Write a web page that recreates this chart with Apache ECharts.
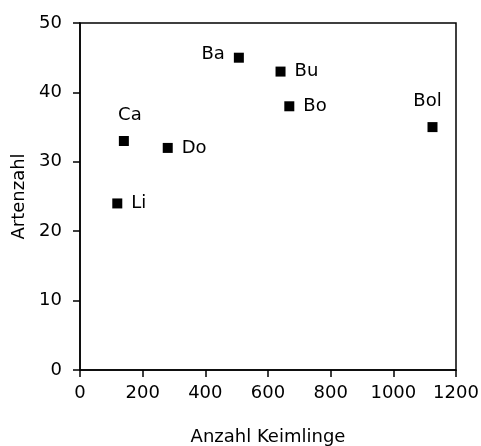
<!DOCTYPE html>
<html>
<head>
<meta charset="utf-8">
<script src="https://cdn.jsdelivr.net/npm/echarts@6/dist/echarts.min.js"></script>
<style>
html,body{margin:0;padding:0;background:#fff;}
#chart{width:481px;height:446px;}
</style>
</head>
<body>
<div id="chart"></div>
<script>
var names = ['Li', 'Ca', 'Do', 'Ba', 'Bu', 'Bo', 'Bol'];
var keimlinge = [119, 140, 280, 507, 640, 668, 1125];
var artenzahl = [24, 33, 32, 45, 43, 38, 35];

// where each label sits relative to its point
var labelPos = {
    Li: 'right', Ca: 'top', Do: 'right', Ba: 'left',
    Bu: 'right', Bo: 'right', Bol: 'top'
};
var labelShift = { Ca: [6, -3], Bol: [-5, -3], Ba: [0, -3] };

var myChart = echarts.init(document.getElementById('chart'));

var pts = names.map(function (n, i) {
    return {
        name: n,
        value: [keimlinge[i], artenzahl[i]],
        label: {
            position: labelPos[n],
            offset: labelShift[n] || [0, 0]
        }
    };
});

var font = 'DejaVu Sans, sans-serif';

option = {
    animation: false,
    grid: {
        left: 80,
        top: 23,
        width: 376,
        height: 347,
        outerBoundsMode: 'none',
        containLabel: false,
        show: true,
        borderColor: '#000',
        borderWidth: 1.5,
        backgroundColor: 'transparent'
    },
    xAxis: {
        type: 'value',
        min: 0,
        max: 1200,
        interval: 200,
        name: 'Anzahl Keimlinge',
        nameLocation: 'middle',
        nameGap: 58,
        nameTextStyle: { color: '#000', fontSize: 18, fontFamily: font },
        axisLine: { lineStyle: { color: '#000', width: 1.5 } },
        axisTick: { length: 7, lineStyle: { color: '#000', width: 1.5 } },
        axisLabel: {
            color: '#000', fontSize: 18, fontFamily: font, margin: 14,
            formatter: function (v) { return String(v); }
        },
        splitLine: { show: false }
    },
    yAxis: {
        type: 'value',
        min: 0,
        max: 50,
        interval: 10,
        name: 'Artenzahl',
        nameLocation: 'middle',
        nameGap: 52,
        nameTextStyle: { color: '#000', fontSize: 18, fontFamily: font },
        axisLine: { lineStyle: { color: '#000', width: 1.5 } },
        axisTick: { length: 7, lineStyle: { color: '#000', width: 1.5 } },
        axisLabel: { color: '#000', fontSize: 18, fontFamily: font, margin: 18 },
        splitLine: { show: false }
    },
    series: [
        {
            type: 'scatter',
            symbol: 'rect',
            symbolSize: 10,
            itemStyle: { color: '#000', opacity: 1 },
            label: {
                show: true,
                formatter: '{b}',
                color: '#000',
                fontSize: 18,
                fontFamily: font,
                distance: 9
            },
            data: pts
        }
    ]
};
myChart.setOption(option);
</script>
</body>
</html>
